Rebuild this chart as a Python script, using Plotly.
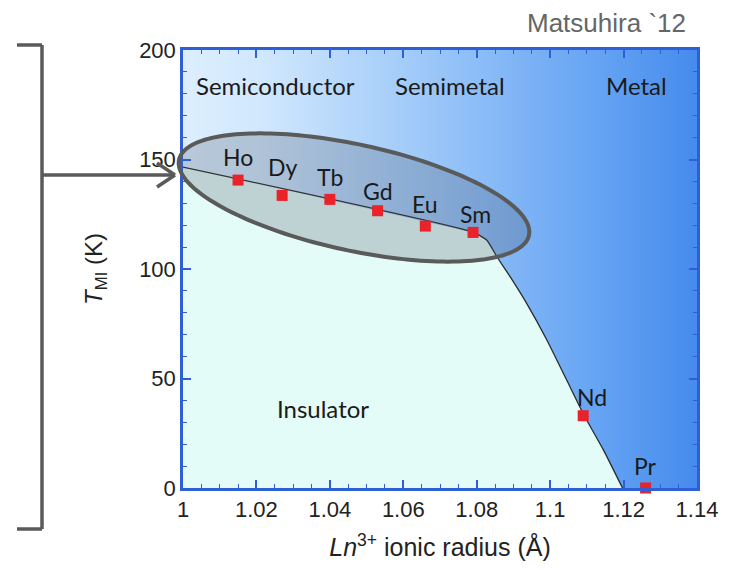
import numpy as np
import plotly.graph_objects as go

# ---------------- data ----------------
elements = ["Ho", "Dy", "Tb", "Gd", "Eu", "Sm", "Nd", "Pr"]
radius = [1.015, 1.027, 1.040, 1.053, 1.066, 1.079, 1.109, 1.126]
t_mi = [140.6, 133.6, 131.8, 126.6, 119.6, 116.7, 33.0, 0.0]

boundary_r = [1.000, 1.0791, 1.0827, 1.0855, 1.0891, 1.0936, 1.0991, 1.1045, 1.1093, 1.1145, 1.1197]
boundary_t = [146.5, 116.7, 113.2, 105.6, 96.5, 84.3, 67.6, 49.3, 33.0, 17.4, 0.0]

regions = ["Semiconductor", "Semimetal", "Metal", "Insulator"]
region_r = [1.0252, 1.0727, 1.1235, 1.0382]
region_t = [183.6, 183.6, 183.6, 36.1]

x_ticks = [1.00, 1.02, 1.04, 1.06, 1.08, 1.10, 1.12, 1.14]
x_ticktext = ["1", "1.02", "1.04", "1.06", "1.08", "1.1", "1.12", "1.14"]
y_ticks = [0, 50, 100, 150, 200]

# ---------------- layout geometry (pixels) ----------------
W, H = 729, 570
L, R, T, B = 183, 697, 50, 488
XR = (1.0, 1.14)
YR = (0, 200)


def px_to_paper(px, py):
    return (px - L) / (R - L), (B - py) / (B - T)


def px_to_data(px, py):
    u, v = px_to_paper(px, py)
    return XR[0] + u * (XR[1] - XR[0]), YR[0] + v * (YR[1] - YR[0])


AXIS_BLUE = "#2f5fd6"
GRAY = "#5a5a5a"
LABEL_FONT = "Lato"
NUM_FONT = "Liberation Sans"

fig = go.Figure()

# background gradient (heatmap)
gx = np.linspace(0.99, 1.15, 41)
fig.add_trace(go.Heatmap(
    x=gx, y=[-5, 205], z=[gx, gx],
    colorscale=[[0.0, "#e2f2ff"], [0.2, "#d0e7fd"], [0.5, "#98c5f8"], [0.8, "#5f9ff2"], [1.0, "#3a82ea"]],
    zmin=0.99, zmax=1.15, zsmooth="best", showscale=False, hoverinfo="skip"))

# insulator region
fig.add_trace(go.Scatter(
    x=[1.0] + boundary_r + [1.0], y=[0] + boundary_t + [0],
    fill="toself", fillcolor="#e4fcf8", line=dict(width=0), mode="lines",
    hoverinfo="skip", showlegend=False))

# phase boundary
fig.add_trace(go.Scatter(
    x=boundary_r, y=boundary_t, mode="lines",
    line=dict(color="#2b2b2b", width=1.3, shape="spline", smoothing=0.5),
    hoverinfo="skip", showlegend=False))

# ellipse (computed in pixel space)
cx, cy, ea, eb, th = 354, 197.5, 179, 53, np.deg2rad(12.2)
tt = np.linspace(0, 2 * np.pi, 181)
ex = cx + ea * np.cos(tt) * np.cos(th) - eb * np.sin(tt) * np.sin(th)
ey = cy + ea * np.cos(tt) * np.sin(th) + eb * np.sin(tt) * np.cos(th)
dxy = [px_to_data(a, b) for a, b in zip(ex, ey)]
fig.add_trace(go.Scatter(
    x=[d[0] for d in dxy], y=[d[1] for d in dxy], mode="lines",
    fill="toself", fillcolor="rgba(70,80,95,0.24)", line=dict(width=0),
    hoverinfo="skip", showlegend=False))
pp = [px_to_paper(a, b) for a, b in zip(ex, ey)]
path = "M " + " L ".join(f"{u:.5f},{v:.5f}" for u, v in pp) + " Z"

# markers
fig.add_trace(go.Scatter(
    x=radius, y=t_mi, mode="markers",
    marker=dict(symbol="square", size=11, color="#ea2229", line=dict(width=0)),
    cliponaxis=False, hoverinfo="skip", showlegend=False))

annotations = []
label_shift = [(0, 23), (0, 28), (0, 22), (0, 20), (0, 22), (2, 18), (9, 19), (0, 22)]
for el, r, t, (dx, dy) in zip(elements, radius, t_mi, label_shift):
    annotations.append(dict(x=r, y=t, text=el, showarrow=False, xshift=dx, yshift=dy,
                            font=dict(family=LABEL_FONT, size=23, color="#1a1a1a")))
for name, r, t in zip(regions, region_r, region_t):
    annotations.append(dict(x=r, y=t, text=name, showarrow=False,
                            font=dict(family=LABEL_FONT, size=24, color="#1a1a1a")))

mu, mv = px_to_paper(688, 23)
annotations.append(dict(x=mu, y=mv, xref="paper", yref="paper", text="Matsuhira `12",
                        showarrow=False, xanchor="right", yanchor="middle",
                        font=dict(family=NUM_FONT, size=26, color="#666666")))

shapes = [dict(type="path", path=path, xref="paper", yref="paper", layer="above",
               line=dict(color=GRAY, width=4), fillcolor="rgba(0,0,0,0)")]


def seg(p1, p2):
    u1, v1 = px_to_paper(*p1)
    u2, v2 = px_to_paper(*p2)
    return dict(type="line", xref="paper", yref="paper", x0=u1, y0=v1, x1=u2, y1=v2,
                line=dict(color=GRAY, width=3.5), layer="above")


shapes += [
    seg((17, 45), (42, 45)),
    seg((42, 45), (42, 529)),
    seg((17, 529), (42, 529)),
    seg((42, 175), (174, 175)),
    seg((157, 163), (175, 175)),
    seg((157, 187), (175, 175)),
]

axis_common = dict(
    showline=True, linecolor=AXIS_BLUE, linewidth=2.5, mirror="allticks",
    ticks="inside", ticklen=8, tickwidth=1.5, tickcolor=AXIS_BLUE,
    showgrid=False, zeroline=False,
    tickfont=dict(family=NUM_FONT, size=22, color="#222222"),
)

fig.update_layout(
    width=W, height=H,
    margin=dict(l=L, r=W - R, t=T, b=H - B),
    paper_bgcolor="white", plot_bgcolor="white",
    showlegend=False,
    xaxis=dict(range=list(XR), tickvals=x_ticks, ticktext=x_ticktext,
               minor=dict(dtick=0.005, tick0=1.0, ticks="inside", ticklen=4, tickcolor=AXIS_BLUE, tickwidth=1.2),
               title=dict(text="<i>Ln</i><sup>3+</sup> ionic radius (Å)", standoff=18,
                          font=dict(family=NUM_FONT, size=25, color="#222222")),
               **axis_common),
    yaxis=dict(range=list(YR), tickvals=y_ticks,
               minor=dict(dtick=10, tick0=0, ticks="inside", ticklen=4, tickcolor=AXIS_BLUE, tickwidth=1.2),
               title=dict(text="<i>T</i><sub>MI</sub> (K)", standoff=30,
                          font=dict(family=NUM_FONT, size=24, color="#222222")),
               **axis_common),
    annotations=annotations,
    shapes=shapes,
)

fig.write_html("out.html")
